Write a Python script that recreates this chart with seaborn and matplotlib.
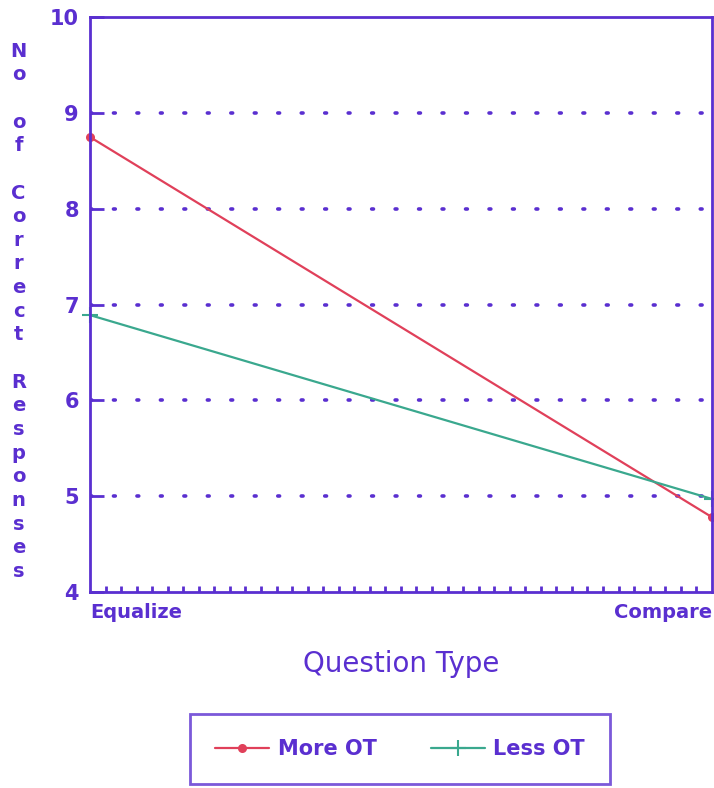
import numpy as np
import pandas as pd
import seaborn as sns
import matplotlib.pyplot as plt
from matplotlib.ticker import MultipleLocator

question_types = ["Equalize", "Compare"]
groups = ["More OT", "Less OT"]
more_ot = [8.75, 4.78]
less_ot = [6.89, 4.97]

purple = "#5a2fd0"
colors = {"More OT": "#e0405a", "Less OT": "#3aa88e"}
markers = {"More OT": "o", "Less OT": "+"}

df = pd.DataFrame({
    "Question Type": question_types * 2,
    "group": [groups[0]] * 2 + [groups[1]] * 2,
    "value": more_ot + less_ot,
})

sns.set_style("white")
plt.rcParams["font.family"] = ["DejaVu Sans"]
plt.rcParams["font.weight"] = "bold"

fig = plt.figure(figsize=(7.14, 7.88), dpi=100)
ax = fig.add_axes([0.126, 0.249, 0.871, 0.729])

for g in groups:
    sns.lineplot(data=df[df["group"] == g], x="Question Type", y="value",
                 color=colors[g], marker=markers[g],
                 markersize=5 if g == "More OT" else 12,
                 markeredgecolor=colors[g], markeredgewidth=1.5,
                 linewidth=1.6, label=g, clip_on=False, ax=ax)

ax.set_xlim(0, 1)
ax.set_ylim(4, 10)
ax.set_yticks(range(4, 11))
for yv in range(5, 10):
    ax.axhline(yv, color=purple, linestyle=(0, (0.5, 6)), linewidth=2.6,
               dash_capstyle="round", zorder=0)

for s in ax.spines.values():
    s.set_color(purple)
    s.set_linewidth(2)

ax.tick_params(axis="y", left=True, direction="in", length=10, width=2,
               color=purple, labelcolor=purple, labelsize=15, pad=8)
ax.tick_params(axis="x", which="major", bottom=True, length=0,
               labelcolor=purple, labelsize=14, pad=8)
ax.xaxis.set_minor_locator(MultipleLocator(1 / 40))
ax.tick_params(axis="x", which="minor", bottom=True, direction="in",
               length=4, width=2, color=purple)
labels = ax.get_xticklabels()
labels[0].set_ha("left")
labels[1].set_ha("right")

ax.set_xlabel("Question Type", color=purple, fontsize=20, labelpad=20,
              fontweight="normal")
ax.set_ylabel("")

ylab = "\n".join(list("No of Correct Responses"))
fig.text(0.026, 0.605, ylab, color=purple, fontsize=14, ha="center",
         va="center", linespacing=1.31)

ax.get_legend().remove()
handles, lbls = ax.get_legend_handles_labels()
leg = fig.legend(handles, lbls, loc="center", bbox_to_anchor=(0.56, 0.049),
                 ncol=2, frameon=True, fancybox=False, fontsize=15,
                 handlelength=2.6, columnspacing=2.6, borderpad=1.2,
                 handletextpad=0.4, borderaxespad=0)
leg.get_frame().set_edgecolor(purple)
leg.get_frame().set_linewidth(2)
for t in leg.get_texts():
    t.set_color(purple)

fig.savefig("out.png", dpi=100)
